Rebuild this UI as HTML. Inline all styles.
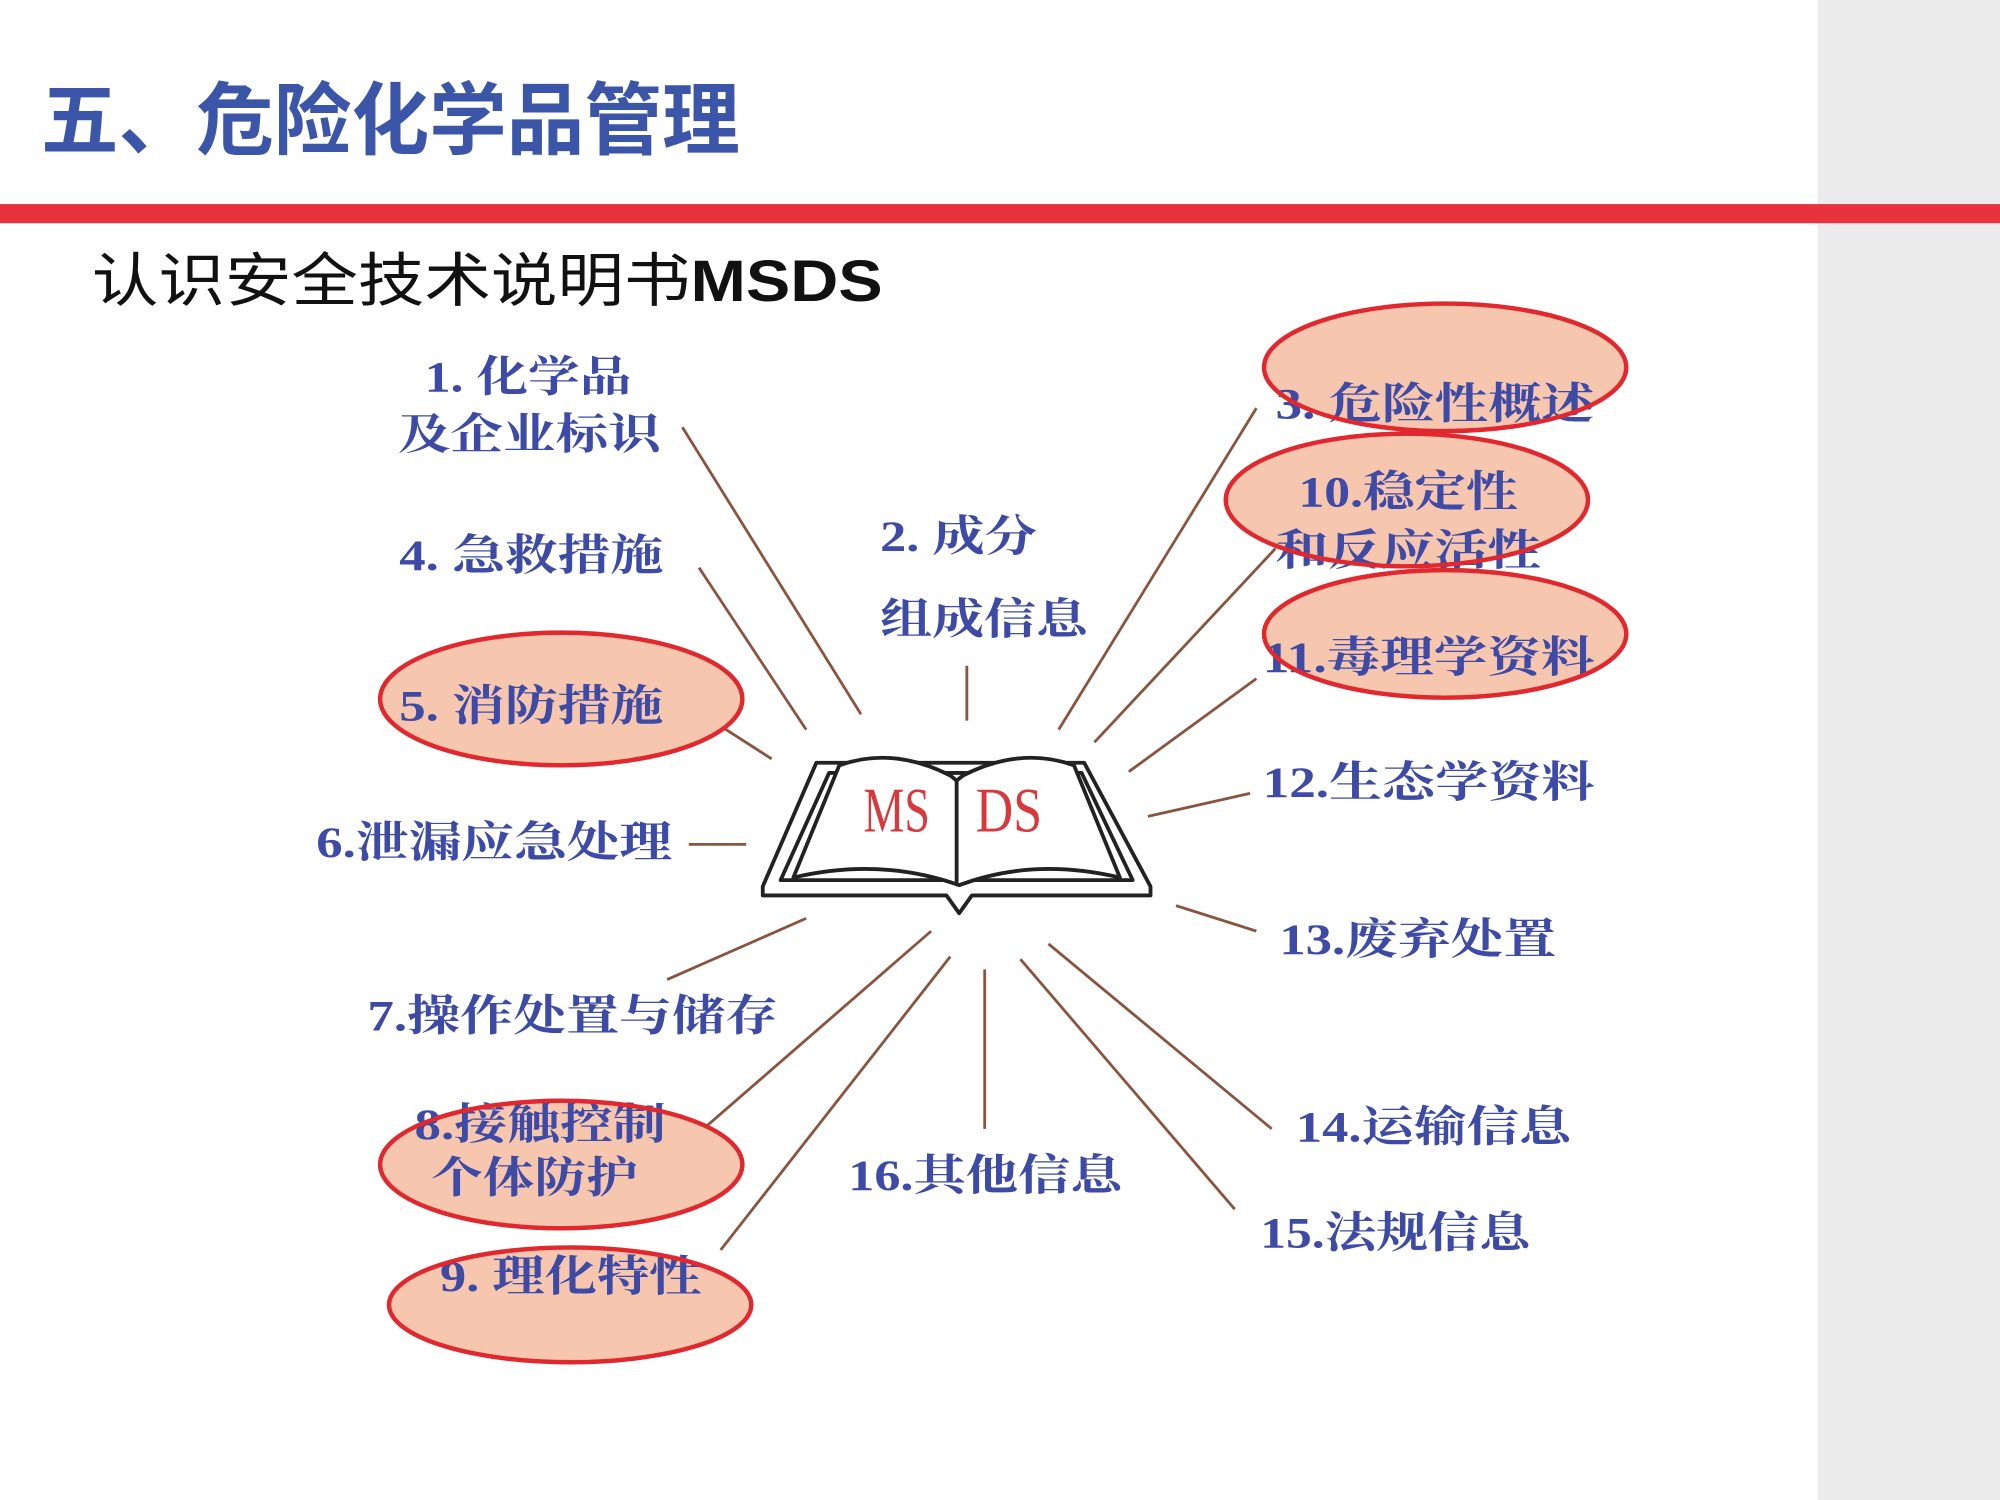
<!DOCTYPE html>
<html><head><meta charset="utf-8"><style>
html,body{margin:0;padding:0;background:#fff}
svg{display:block}
.t{font-family:"Liberation Serif","Noto Serif CJK SC",serif;font-weight:bold;font-size:34px;fill:#3d4aa6}
</style></head><body>
<svg width="2000" height="1500" viewBox="0 0 1568 1176" xmlns="http://www.w3.org/2000/svg">
<rect x="0" y="0" width="1568" height="1176" fill="#fff"/>
<rect x="1425" y="0" width="143" height="1176" fill="#ebebeb"/>
<text x="32" y="116" font-family="Liberation Sans,'Noto Sans CJK SC',sans-serif" font-weight="bold" font-size="62" fill="#3b56a8" textLength="548" lengthAdjust="spacingAndGlyphs">五、危险化学品管理</text>
<rect x="0" y="160" width="1568" height="15" fill="#e8323c"/>
<text x="72" y="236" font-family="Liberation Sans,'Noto Sans CJK SC',sans-serif" font-size="46" fill="#111" textLength="620" lengthAdjust="spacingAndGlyphs">认识安全技术说明书<tspan font-weight="bold">MSDS</tspan></text>
<g stroke="#8a5540" stroke-width="2.2" fill="none">
<line x1="535" y1="335" x2="675" y2="560"/>
<line x1="548" y1="445" x2="632" y2="572"/>
<line x1="535" y1="550" x2="605" y2="595"/>
<line x1="540" y1="662" x2="585" y2="662"/>
<line x1="523" y1="768" x2="632" y2="720"/>
<line x1="540" y1="895" x2="730" y2="730"/>
<line x1="565" y1="980" x2="745" y2="750"/>
<line x1="772" y1="760" x2="772" y2="885"/>
<line x1="758" y1="522" x2="758" y2="565"/>
<line x1="985" y1="320" x2="830" y2="572"/>
<line x1="1000" y1="430" x2="858" y2="582"/>
<line x1="985" y1="532" x2="885" y2="605"/>
<line x1="980" y1="622" x2="900" y2="640"/>
<line x1="922" y1="710" x2="985" y2="730"/>
<line x1="822" y1="740" x2="997" y2="885"/>
<line x1="800" y1="752" x2="968" y2="948"/>
</g>
<g stroke="#222" stroke-width="3" fill="#fff" stroke-linejoin="round">
<path d="M598 695 L640 598 L850 598 L902 695 L902 702 L762 702 L752 716 L742 702 L598 702 Z"/>
<path d="M612 690 L650 606 L750 606 L848 606 L888 690 Z"/>
<path d="M622 688 L658 600 Q700 585 745 608 L750 612 L755 608 Q800 585 842 600 L878 688 Q810 672 752 694 Q690 672 622 688 Z"/>
<line x1="750" y1="612" x2="750" y2="694"/>
</g>
<text x="677" y="652" font-family="Liberation Serif,serif" font-size="50" fill="#d8393c" textLength="52" lengthAdjust="spacingAndGlyphs">MS</text>
<text x="765" y="652" font-family="Liberation Serif,serif" font-size="50" fill="#d8393c" textLength="52" lengthAdjust="spacingAndGlyphs">DS</text>
<g fill="#f6c6ae">
<ellipse cx="1133" cy="288" rx="142" ry="50"/>
<ellipse cx="1103" cy="392" rx="142" ry="52"/>
<ellipse cx="1133" cy="497" rx="142" ry="50"/>
<ellipse cx="440" cy="548" rx="142" ry="52"/>
<ellipse cx="440" cy="913" rx="142" ry="50"/>
<ellipse cx="447" cy="1023" rx="142" ry="45"/>
</g>
<g class="t">
<text x="333" y="307" textLength="162" lengthAdjust="spacingAndGlyphs">1. 化学品</text>
<text x="312" y="352" textLength="206" lengthAdjust="spacingAndGlyphs">及企业标识</text>
<text x="313" y="447" textLength="207" lengthAdjust="spacingAndGlyphs">4. 急救措施</text>
<text x="313" y="565" textLength="207" lengthAdjust="spacingAndGlyphs">5. 消防措施</text>
<text x="248" y="672" textLength="279" lengthAdjust="spacingAndGlyphs">6.泄漏应急处理</text>
<text x="288" y="808" textLength="322" lengthAdjust="spacingAndGlyphs">7.操作处置与储存</text>
<text x="325" y="893" textLength="197" lengthAdjust="spacingAndGlyphs">8.接触控制</text>
<text x="338" y="935" textLength="162" lengthAdjust="spacingAndGlyphs">个体防护</text>
<text x="345" y="1012" textLength="205" lengthAdjust="spacingAndGlyphs">9. 理化特性</text>
<text x="690" y="432" textLength="123" lengthAdjust="spacingAndGlyphs">2. 成分</text>
<text x="690" y="497" textLength="163" lengthAdjust="spacingAndGlyphs">组成信息</text>
<text x="665" y="933" textLength="215" lengthAdjust="spacingAndGlyphs">16.其他信息</text>
<text x="1000" y="328" textLength="250" lengthAdjust="spacingAndGlyphs">3. 危险性概述</text>
<text x="1018" y="397" textLength="172" lengthAdjust="spacingAndGlyphs">10.稳定性</text>
<text x="1000" y="443" textLength="208" lengthAdjust="spacingAndGlyphs">和反应活性</text>
<text x="990" y="527" textLength="260" lengthAdjust="spacingAndGlyphs">11.毒理学资料</text>
<text x="990" y="625" textLength="260" lengthAdjust="spacingAndGlyphs">12.生态学资料</text>
<text x="1003" y="748" textLength="217" lengthAdjust="spacingAndGlyphs">13.废弃处置</text>
<text x="1016" y="895" textLength="216" lengthAdjust="spacingAndGlyphs">14.运输信息</text>
<text x="988" y="978" textLength="212" lengthAdjust="spacingAndGlyphs">15.法规信息</text>
</g>
<g fill="none" stroke="#e0282e" stroke-width="3.5">
<ellipse cx="1133" cy="288" rx="142" ry="50"/>
<ellipse cx="1103" cy="392" rx="142" ry="52"/>
<ellipse cx="1133" cy="497" rx="142" ry="50"/>
<ellipse cx="440" cy="548" rx="142" ry="52"/>
<ellipse cx="440" cy="913" rx="142" ry="50"/>
<ellipse cx="447" cy="1023" rx="142" ry="45"/>
</g>
</svg>
</body></html>
